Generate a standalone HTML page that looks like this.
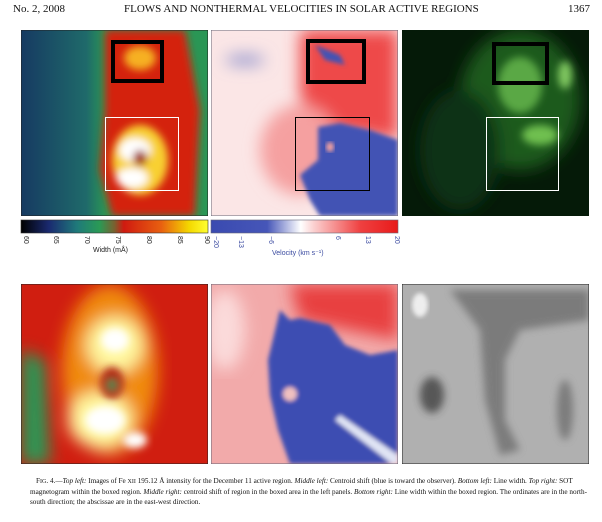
<!DOCTYPE html>
<html><head><meta charset="utf-8"><style>
body{margin:0;background:#fff;width:602px;height:522px;overflow:hidden;position:relative;font-family:"Liberation Serif",serif}
.t{position:absolute;white-space:nowrap;color:#111}
</style></head><body>
<div class="t" style="left:13px;top:3px;font-size:11px">No. 2, 2008</div>
<div class="t" style="left:124px;top:3px;font-size:11px">FLOWS AND NONTHERMAL VELOCITIES IN SOLAR ACTIVE REGIONS</div>
<div class="t" style="left:568px;top:3px;font-size:11px">1367</div>
<svg width="602" height="522" style="position:absolute;left:0;top:0" xmlns="http://www.w3.org/2000/svg">
<defs>
<filter id="b4"><feGaussianBlur stdDeviation="4"/></filter>
<filter id="b2"><feGaussianBlur stdDeviation="2"/></filter>
<filter id="b8"><feGaussianBlur stdDeviation="8"/></filter>
<clipPath id="c1"><rect x="21" y="30" width="187" height="186"/></clipPath>
<clipPath id="c2"><rect x="211" y="30" width="187" height="186"/></clipPath>
<clipPath id="c3"><rect x="402" y="30" width="187" height="186"/></clipPath>
<clipPath id="d1"><rect x="21" y="284" width="187" height="180"/></clipPath>
<clipPath id="d2"><rect x="211" y="284" width="187" height="180"/></clipPath>
<clipPath id="d3"><rect x="402" y="284" width="187" height="180"/></clipPath>
<linearGradient id="gl" x1="0" x2="1"><stop offset="0" stop-color="#163a62"/><stop offset="0.35" stop-color="#1f6a6a"/><stop offset="0.45" stop-color="#2a9655"/><stop offset="1" stop-color="#2a9655"/></linearGradient>
<linearGradient id="cbw" x1="0" x2="1"><stop offset="0" stop-color="#000"/><stop offset="0.15" stop-color="#1a2a70"/><stop offset="0.3" stop-color="#1f7a7a"/><stop offset="0.42" stop-color="#2a9a55"/><stop offset="0.5" stop-color="#7a6030"/><stop offset="0.55" stop-color="#d01a10"/><stop offset="0.75" stop-color="#e86010"/><stop offset="0.9" stop-color="#f4d800"/><stop offset="1" stop-color="#ffff30"/></linearGradient>
<linearGradient id="cbv" x1="0" x2="1"><stop offset="0" stop-color="#3a4ab0"/><stop offset="0.3" stop-color="#4656b8"/><stop offset="0.48" stop-color="#fff"/><stop offset="0.55" stop-color="#fbd0d0"/><stop offset="0.8" stop-color="#ef4040"/><stop offset="1" stop-color="#e81a1a"/></linearGradient>
</defs>
<g clip-path="url(#c1)">
<rect x="21" y="30" width="187" height="186" fill="url(#gl)"/>
<g filter="url(#b4)" fill="#d42010">
<path d="M105 30 L185 30 L200 110 L195 216 L112 216 L100 170 L105 110 Z"/>
<ellipse cx="150" cy="80" rx="35" ry="45"/>
</g>
<g filter="url(#b4)">
<ellipse cx="140" cy="58" rx="16" ry="12" fill="#f6b020"/>
<ellipse cx="140" cy="160" rx="28" ry="35" fill="#f8d030"/>
<ellipse cx="135" cy="150" rx="16" ry="12" fill="#fff"/>
<ellipse cx="132" cy="178" rx="16" ry="10" fill="#fff"/>
<ellipse cx="140" cy="158" rx="7" ry="8" fill="#a03020"/>
</g>
<rect x="21" y="30" width="187" height="186" fill="none" stroke="#222" stroke-width="1"/>
<rect x="113" y="42" width="49" height="39" fill="none" stroke="#000" stroke-width="4"/>
<rect x="105.5" y="117.5" width="73" height="73" fill="none" stroke="#fff" stroke-width="1"/>
</g>
<g clip-path="url(#c2)">
<rect x="211" y="30" width="187" height="186" fill="#fbe6e6"/>
<g filter="url(#b8)">
<path d="M300 30 L398 30 L398 140 L330 130 L300 100 Z" fill="#ee4848"/>
<ellipse cx="300" cy="150" rx="40" ry="45" fill="#f5a0a0"/>
<ellipse cx="245" cy="60" rx="20" ry="5" fill="#8a90cc"/>
</g>
<g filter="url(#b2)" fill="#4252b4">
<path d="M318 127 L340 123 L370 130 L398 140 L398 216 L320 216 L310 200 L300 175 L318 160 Z"/>
<path d="M315 45 L340 55 L345 65 L325 60 Z"/>
</g>
<ellipse cx="330" cy="147" rx="4" ry="5" fill="#f0a0a0" filter="url(#b2)"/>
<rect x="211" y="30" width="187" height="186" fill="none" stroke="#667" stroke-width="1"/>
<rect x="308" y="41" width="56" height="41" fill="none" stroke="#000" stroke-width="4"/>
<rect x="295.5" y="117.5" width="74" height="73" fill="none" stroke="#000" stroke-width="1"/>
</g>
<g clip-path="url(#c3)">
<rect x="402" y="30" width="187" height="186" fill="#051a08"/>
<g filter="url(#b8)">
<ellipse cx="520" cy="100" rx="60" ry="70" fill="#1a5a1e"/>
<ellipse cx="460" cy="150" rx="40" ry="60" fill="#0e3212"/>
</g>
<g filter="url(#b4)">
<ellipse cx="520" cy="85" rx="22" ry="28" fill="#5aa844"/>
<ellipse cx="540" cy="135" rx="18" ry="10" fill="#70c050"/>
<ellipse cx="565" cy="75" rx="7" ry="14" fill="#80c860"/>
</g>
<rect x="494" y="44" width="53" height="39" fill="none" stroke="#000" stroke-width="4"/>
<rect x="486.5" y="117.5" width="72" height="73" fill="none" stroke="#fff" stroke-width="1"/>
</g>
<rect x="21" y="220" width="187" height="13" fill="url(#cbw)" stroke="#333" stroke-width="0.6"/>
<rect x="211" y="220" width="187" height="13" fill="url(#cbv)" stroke="#667" stroke-width="0.6"/>
<g font-family="Liberation Sans, sans-serif" font-size="7" fill="#222">
<text transform="translate(24,236) rotate(90)">60</text>
<text transform="translate(54,236) rotate(90)">65</text>
<text transform="translate(85,236) rotate(90)">70</text>
<text transform="translate(116,236) rotate(90)">75</text>
<text transform="translate(147,236) rotate(90)">80</text>
<text transform="translate(178,236) rotate(90)">85</text>
<text transform="translate(205,236) rotate(90)">90</text>
<text x="93" y="252">Width (mÅ)</text>
</g>
<g font-family="Liberation Sans, sans-serif" font-size="7" fill="#3a4aa0">
<text transform="translate(214,236) rotate(90)">−20</text>
<text transform="translate(239,236) rotate(90)">−13</text>
<text transform="translate(269,236) rotate(90)">−6</text>
<text transform="translate(336,236) rotate(90)">6</text>
<text transform="translate(366,236) rotate(90)">13</text>
<text transform="translate(395,236) rotate(90)">20</text>
<text x="272" y="255">Velocity (km s⁻¹)</text>
</g>
<g clip-path="url(#d1)">
<rect x="21" y="284" width="187" height="180" fill="#d01e10"/>
<g filter="url(#b8)">
<path d="M21 350 L45 360 L50 464 L21 464 Z" fill="#2a9655"/>
<ellipse cx="110" cy="370" rx="48" ry="85" fill="#f08a10"/>
<ellipse cx="115" cy="345" rx="28" ry="28" fill="#fff8a0"/>
<ellipse cx="100" cy="420" rx="32" ry="28" fill="#fff8a0"/>
</g>
<g filter="url(#b4)">
<ellipse cx="115" cy="340" rx="14" ry="12" fill="#fff"/>
<ellipse cx="105" cy="420" rx="20" ry="14" fill="#fff"/>
<ellipse cx="135" cy="440" rx="12" ry="8" fill="#fff"/>
<ellipse cx="112" cy="383" rx="12" ry="16" fill="#b02a18"/>
<ellipse cx="112" cy="385" rx="5" ry="6" fill="#2a8a50"/>
</g>
<rect x="21" y="284" width="187" height="180" fill="none" stroke="#222" stroke-width="1"/>
</g>
<g clip-path="url(#d2)">
<rect x="211" y="284" width="187" height="180" fill="#f2aaaa"/>
<g filter="url(#b8)">
<path d="M290 284 L398 284 L398 340 L300 320 Z" fill="#e84040"/>
<ellipse cx="225" cy="330" rx="20" ry="40" fill="#fbdada"/>
</g>
<g filter="url(#b2)">
<path d="M280 310 L290 320 L300 318 L330 325 L345 345 L370 355 L398 350 L398 464 L290 464 L278 430 L270 395 L268 360 Z" fill="#3e4eb2"/>
<ellipse cx="290" cy="394" rx="7" ry="7" fill="#f0c0c0"/>
<path d="M340 415 L398 455 L398 464 L392 464 L335 420 Z" fill="#e0e4f4"/>
</g>
<rect x="211" y="284" width="187" height="180" fill="none" stroke="#667" stroke-width="1"/>
</g>
<g clip-path="url(#d3)">
<rect x="402" y="284" width="187" height="180" fill="#b0b0b0"/>
<g filter="url(#b4)" fill="#666" opacity="0.7">
<path d="M450 290 L589 290 L589 320 L520 330 L505 360 L505 420 L520 450 L500 455 L485 400 L480 330 Z"/>
<ellipse cx="432" cy="395" rx="12" ry="18" fill="#333"/>
<ellipse cx="565" cy="410" rx="8" ry="30"/>
</g>
<g filter="url(#b2)" fill="#eee">
<ellipse cx="420" cy="305" rx="8" ry="12"/>
</g>
<rect x="402" y="284" width="187" height="180" fill="none" stroke="#222" stroke-width="1"/>
</g>
</svg>
<div class="t" style="left:30px;top:476px;font-size:7.2px;line-height:10px;width:560px;white-space:normal;text-indent:6px">F<span style="font-size:6px">IG</span>. 4.—<i>Top left:</i> Images of Fe <span style="font-size:6px">XII</span> 195.12 Å intensity for the December 11 active region. <i>Middle left:</i> Centroid shift (blue is toward the observer). <i>Bottom left:</i> Line width. <i>Top right:</i> SOT magnetogram within the boxed region. <i>Middle right:</i> centroid shift of region in the boxed area in the left panels. <i>Bottom right:</i> Line width within the boxed region. The ordinates are in the north-south direction; the abscissae are in the east-west direction.</div>
</body></html>
